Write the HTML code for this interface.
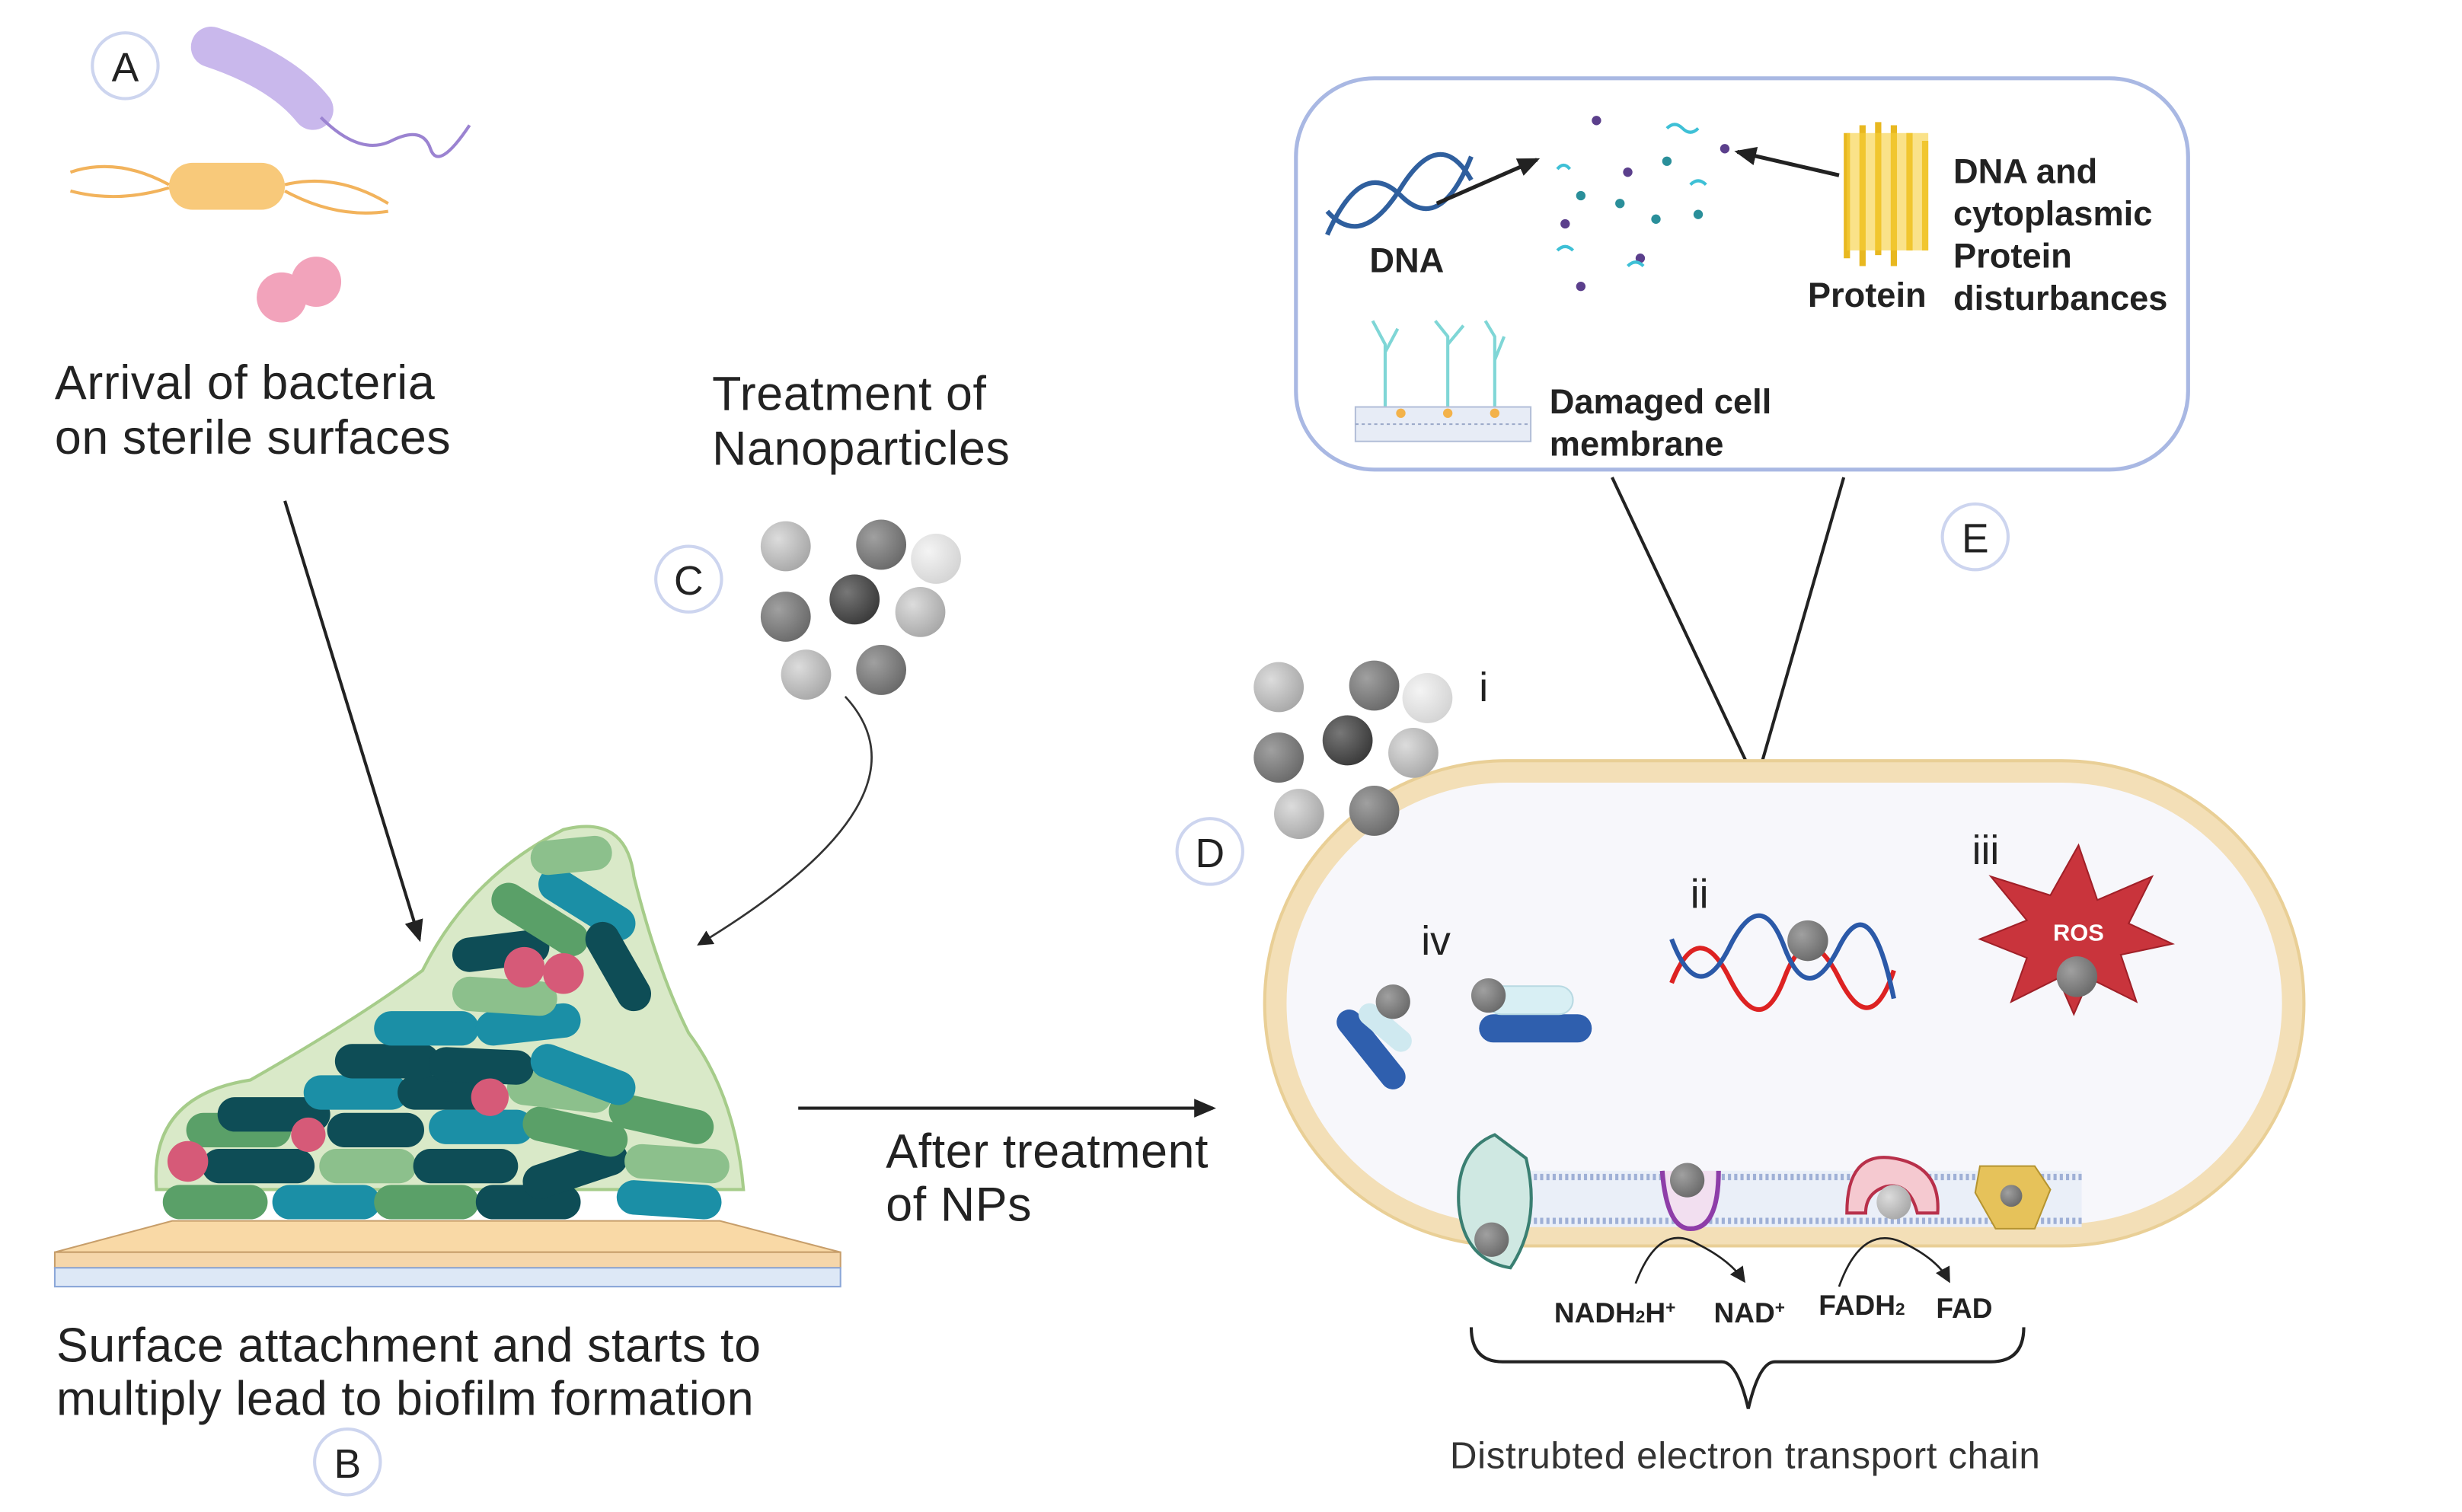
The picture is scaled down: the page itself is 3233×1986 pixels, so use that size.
<!DOCTYPE html>
<html><head><meta charset="utf-8"><style>
html,body{margin:0;padding:0;background:#fff;}
svg{display:block;}
text{font-family:"Liberation Sans",sans-serif;}
</style></head><body>
<svg width="3233" height="1986" viewBox="0 0 1573 966" preserveAspectRatio="none" xmlns="http://www.w3.org/2000/svg">
<defs>
<radialGradient id="g1" cx="35%" cy="35%" r="70%"><stop offset="0" stop-color="#dcdcdc"/><stop offset="1" stop-color="#a8a8a8"/></radialGradient>
<radialGradient id="g2" cx="35%" cy="35%" r="70%"><stop offset="0" stop-color="#a0a0a0"/><stop offset="1" stop-color="#6a6a6a"/></radialGradient>
<radialGradient id="g3" cx="35%" cy="35%" r="70%"><stop offset="0" stop-color="#777"/><stop offset="1" stop-color="#3a3a3a"/></radialGradient>
<radialGradient id="g4" cx="35%" cy="35%" r="70%"><stop offset="0" stop-color="#f4f4f4"/><stop offset="1" stop-color="#d4d4d4"/></radialGradient>
<marker id="ar" markerWidth="10" markerHeight="10" refX="8" refY="5" orient="auto" markerUnits="userSpaceOnUse"><path d="M0,0 L10,5 L0,10 z" fill="#222"/></marker>
<marker id="ar2" markerWidth="14" markerHeight="12" refX="12" refY="6" orient="auto" markerUnits="userSpaceOnUse"><path d="M0,0 L14,6 L0,12 z" fill="#222"/></marker>
</defs>

<g fill="#fff" stroke="#cdd5ef" stroke-width="2">
<circle cx="80" cy="42" r="21"/><circle cx="440" cy="370" r="21"/><circle cx="222" cy="934" r="21"/>
<circle cx="773" cy="544" r="21"/><circle cx="1262" cy="343" r="21"/>
</g>
<g font-size="26" fill="#222" text-anchor="middle">
<text x="80" y="52">A</text><text x="440" y="380">C</text><text x="222" y="944">B</text>
<text x="773" y="554">D</text><text x="1262" y="353">E</text>
</g>

<path d="M135,30 Q180,45 200,70" stroke="#c9b8ec" stroke-width="26" stroke-linecap="round" fill="none"/>
<path d="M205,75 Q230,100 250,90 T275,95 T300,80" stroke="#9b83d1" stroke-width="2" fill="none"/>
<rect x="108" y="104" width="74" height="30" rx="15" fill="#f8c97a"/>
<path d="M45,110 Q75,100 108,118 M45,122 Q75,130 108,120 M182,118 Q215,110 248,130 M182,122 Q215,140 248,135" stroke="#f2b35c" stroke-width="2" fill="none"/>
<circle cx="180" cy="190" r="16" fill="#f2a3bb"/><circle cx="202" cy="180" r="16" fill="#f2a3bb"/>

<g font-size="30.5" fill="#222" letter-spacing="0.3">
<text x="35" y="255">Arrival of bacteria</text><text x="35" y="290">on sterile surfaces</text>
<text x="455" y="262">Treatment of</text><text x="455" y="297">Nanoparticles</text>
<text x="36" y="870">Surface attachment and starts to</text><text x="36" y="904">multiply lead to biofilm formation</text>
<text x="566" y="746">After treatment</text><text x="566" y="780">of NPs</text>
</g>

<line x1="182" y1="320" x2="268" y2="600" stroke="#222" stroke-width="2" marker-end="url(#ar2)"/>
<path d="M540,445 Q600,510 447,603" stroke="#333" stroke-width="1.3" fill="none" marker-end="url(#ar)"/>
<line x1="510" y1="708" x2="775" y2="708" stroke="#222" stroke-width="2" marker-end="url(#ar2)"/>

<circle cx="502" cy="349" r="16" fill="url(#g1)"/><circle cx="563" cy="348" r="16" fill="url(#g2)"/><circle cx="598" cy="357" r="16" fill="url(#g4)"/>
<circle cx="502" cy="394" r="16" fill="url(#g2)"/><circle cx="546" cy="383" r="16" fill="url(#g3)"/><circle cx="588" cy="391" r="16" fill="url(#g1)"/>
<circle cx="515" cy="431" r="16" fill="url(#g1)"/><circle cx="563" cy="428" r="16" fill="url(#g2)"/>

<path d="M100,760 Q95,700 160,690 Q230,650 270,620 Q300,560 360,530 Q400,520 405,560 Q420,620 440,660 Q470,700 475,760 Z" fill="#d9e9c8" stroke="#a6cc8a" stroke-width="2"/>
<polygon points="35,800 110,780 460,780 537,800" fill="#f9d9a6" stroke="#c79e6a"/>
<rect x="35" y="800" width="502" height="10" fill="#f5d6aa" stroke="#c79e6a"/>
<rect x="35" y="810" width="502" height="12" fill="#dde8f6" stroke="#8aa6d8"/>
<g stroke-linecap="round" stroke-width="22" fill="none">
<line x1="115" y1="768" x2="160" y2="768" stroke="#5aa068"/><line x1="185" y1="768" x2="232" y2="768" stroke="#1b8fa6"/>
<line x1="250" y1="768" x2="295" y2="768" stroke="#5aa068"/><line x1="315" y1="768" x2="360" y2="768" stroke="#0e4d56"/>
<line x1="405" y1="765" x2="450" y2="768" stroke="#1b8fa6"/><line x1="140" y1="745" x2="190" y2="745" stroke="#0e4d56"/>
<line x1="215" y1="745" x2="255" y2="745" stroke="#8cc08c"/><line x1="275" y1="745" x2="320" y2="745" stroke="#0e4d56"/>
<line x1="345" y1="755" x2="390" y2="740" stroke="#0e4d56"/><line x1="410" y1="742" x2="455" y2="745" stroke="#8cc08c"/>
<line x1="130" y1="722" x2="175" y2="722" stroke="#5aa068"/><line x1="150" y1="712" x2="200" y2="712" stroke="#0e4d56"/>
<line x1="220" y1="722" x2="260" y2="722" stroke="#0e4d56"/><line x1="285" y1="720" x2="330" y2="720" stroke="#1b8fa6"/>
<line x1="345" y1="718" x2="390" y2="728" stroke="#5aa068"/><line x1="400" y1="710" x2="445" y2="720" stroke="#5aa068"/>
<line x1="205" y1="698" x2="250" y2="698" stroke="#1b8fa6"/><line x1="265" y1="698" x2="310" y2="698" stroke="#0e4d56"/>
<line x1="335" y1="695" x2="380" y2="700" stroke="#8cc08c"/><line x1="225" y1="678" x2="270" y2="678" stroke="#0e4d56"/>
<line x1="285" y1="680" x2="330" y2="682" stroke="#0e4d56"/><line x1="350" y1="678" x2="395" y2="695" stroke="#1b8fa6"/>
<line x1="250" y1="657" x2="295" y2="657" stroke="#1b8fa6"/><line x1="315" y1="657" x2="360" y2="652" stroke="#1b8fa6"/>
<line x1="300" y1="635" x2="345" y2="638" stroke="#8cc08c"/><line x1="300" y1="610" x2="340" y2="605" stroke="#0e4d56"/>
<line x1="325" y1="575" x2="365" y2="600" stroke="#5aa068"/><line x1="355" y1="565" x2="395" y2="590" stroke="#1b8fa6"/>
<line x1="385" y1="600" x2="405" y2="635" stroke="#0e4d56"/><line x1="350" y1="548" x2="380" y2="545" stroke="#8cc08c"/>
</g>
<g fill="#d65a78"><circle cx="120" cy="742" r="13"/><circle cx="197" cy="725" r="11"/><circle cx="313" cy="701" r="12"/><circle cx="335" cy="618" r="13"/><circle cx="360" cy="622" r="13"/></g>

<rect x="828" y="50" width="570" height="250" rx="50" fill="#fff" stroke="#a9b8e3" stroke-width="2.5"/>
<line x1="1030" y1="305" x2="1122" y2="500" stroke="#222" stroke-width="2"/>
<line x1="1178" y1="305" x2="1122" y2="500" stroke="#222" stroke-width="2"/>
<path d="M848,150 Q870,100 895,125 T940,100 M848,135 Q870,160 895,120 T940,115" stroke="#2f5f9e" stroke-width="3" fill="none"/>
<line x1="918" y1="130" x2="982" y2="102" stroke="#222" stroke-width="2.5" marker-end="url(#ar2)"/>
<line x1="1175" y1="112" x2="1110" y2="97" stroke="#222" stroke-width="2.5" marker-end="url(#ar2)"/>
<g fill="#5b3f8c"><circle cx="1020" cy="77" r="3"/><circle cx="1040" cy="110" r="3"/><circle cx="1000" cy="143" r="3"/><circle cx="1048" cy="165" r="3"/><circle cx="1010" cy="183" r="3"/><circle cx="1102" cy="95" r="3"/></g>
<g fill="#2a8f9a"><circle cx="1065" cy="103" r="3"/><circle cx="1010" cy="125" r="3"/><circle cx="1058" cy="140" r="3"/><circle cx="1085" cy="137" r="3"/><circle cx="1035" cy="130" r="3"/></g>
<g stroke="#3ec0d6" stroke-width="2" fill="none"><path d="M1065,82 q5,-5 10,0 t10,0"/><path d="M995,108 q4,-5 8,0"/><path d="M1080,118 q5,-5 10,0"/><path d="M995,160 q5,-5 10,0"/><path d="M1040,170 q5,-5 10,0"/></g>
<g stroke="#e8b820" stroke-width="4" fill="none"><path d="M1180,85 v80 M1190,80 v90 M1200,78 v85 M1210,80 v90 M1220,85 v75 M1230,90 v70"/></g>
<rect x="1180" y="85" width="52" height="75" fill="#f6cf3a" opacity="0.6"/>
<g stroke="#7fd6d6" stroke-width="2" fill="none"><path d="M885,260 v-40 l-8,-15 M885,225 l8,-15"/><path d="M925,260 v-45 l-8,-10 M925,220 l10,-12"/><path d="M955,260 v-45 l-6,-10 M955,230 l6,-15"/></g>
<rect x="866" y="260" width="112" height="22" fill="#e7ecf6" stroke="#b3bfd8"/>
<line x1="866" y1="271" x2="978" y2="271" stroke="#9aa8c8" stroke-dasharray="2,2"/>
<g fill="#f3b24a"><circle cx="895" cy="264" r="3"/><circle cx="925" cy="264" r="3"/><circle cx="955" cy="264" r="3"/></g>
<g font-size="22" font-weight="bold" fill="#222">
<text x="875" y="174">DNA</text><text x="1155" y="196">Protein</text>
<text x="1248" y="117">DNA and</text><text x="1248" y="144">cytoplasmic</text><text x="1248" y="171">Protein</text><text x="1248" y="198">disturbances</text>
<text x="990" y="264">Damaged cell</text><text x="990" y="291">membrane</text>
</g>

<rect x="815" y="493" width="650" height="296" rx="148" fill="#f7f7fb" stroke="#f3dfb7" stroke-width="14"/>
<rect x="808" y="486" width="664" height="310" rx="155" fill="none" stroke="#e9cf96" stroke-width="2"/>
<circle cx="817" cy="439" r="16" fill="url(#g1)"/><circle cx="878" cy="438" r="16" fill="url(#g2)"/><circle cx="912" cy="446" r="16" fill="url(#g4)"/>
<circle cx="817" cy="484" r="16" fill="url(#g2)"/><circle cx="861" cy="473" r="16" fill="url(#g3)"/><circle cx="903" cy="481" r="16" fill="url(#g1)"/>
<circle cx="830" cy="520" r="16" fill="url(#g1)"/><circle cx="878" cy="518" r="16" fill="url(#g2)"/>
<g font-size="26" fill="#222"><text x="945" y="448">i</text><text x="1080" y="580">ii</text><text x="1260" y="552">iii</text><text x="908" y="610">iv</text></g>

<line x1="862" y1="653" x2="890" y2="688" stroke="#2f5fae" stroke-width="16" stroke-linecap="round"/>
<line x1="875" y1="648" x2="895" y2="665" stroke="#cfe9f0" stroke-width="14" stroke-linecap="round"/>
<circle cx="890" cy="640" r="11" fill="url(#g2)"/>
<rect x="945" y="648" width="72" height="18" rx="9" fill="#2f5fae"/>
<rect x="950" y="630" width="55" height="18" rx="9" fill="#d8eff4" stroke="#b8d9e2"/>
<circle cx="951" cy="636" r="11" fill="url(#g2)"/>
<path d="M1068,628 Q1085,585 1105,625 T1140,625 T1175,625 T1210,620" stroke="#d22" stroke-width="3" fill="none"/>
<path d="M1068,600 Q1085,645 1105,605 T1140,605 T1175,605 T1210,638" stroke="#2b59a8" stroke-width="3" fill="none"/>
<circle cx="1155" cy="601" r="13" fill="url(#g2)"/>
<polygon points="1328,540 1340,575 1375,560 1360,590 1388,603 1355,610 1365,640 1335,625 1325,648 1315,625 1285,640 1295,612 1265,600 1295,588 1272,560 1310,572" fill="#c9343c" stroke="#a02028"/>
<text x="1328" y="601" font-size="15" font-weight="bold" fill="#fff" text-anchor="middle">ROS</text>
<circle cx="1327" cy="624" r="13" fill="url(#g2)"/>

<rect x="960" y="748" width="370" height="36" fill="#eaeff8"/>
<line x1="960" y1="752" x2="1330" y2="752" stroke="#9fb0d6" stroke-width="4" stroke-dasharray="2,2"/>
<line x1="960" y1="780" x2="1330" y2="780" stroke="#9fb0d6" stroke-width="4" stroke-dasharray="2,2"/>
<path d="M955,725 Q930,735 932,770 Q935,805 965,810 Q985,780 975,740 Z" fill="#cfe8e2" stroke="#3a7f72" stroke-width="2"/>
<circle cx="953" cy="792" r="11" fill="url(#g2)"/>
<path d="M1062,748 Q1065,785 1080,785 Q1098,785 1098,748" fill="#f2dff0" stroke="#8e3da8" stroke-width="3"/>
<circle cx="1078" cy="754" r="11" fill="url(#g2)"/>
<path d="M1180,775 Q1180,735 1210,740 Q1240,745 1238,775 L1225,775 Q1220,755 1205,758 Q1192,762 1192,775 Z" fill="#f5c9d0" stroke="#b8304a" stroke-width="2"/>
<circle cx="1210" cy="768" r="11" fill="url(#g1)"/>
<path d="M1265,745 L1300,745 L1310,760 L1300,785 L1275,785 L1262,762 Z" fill="#e6c25a" stroke="#b59430"/>
<circle cx="1285" cy="764" r="7" fill="url(#g2)"/>
<path d="M1045,820 Q1060,780 1085,795 Q1105,805 1114,818" stroke="#222" fill="none" stroke-width="1.3" marker-end="url(#ar)"/>
<path d="M1175,822 Q1190,780 1218,795 Q1238,805 1245,818" stroke="#222" fill="none" stroke-width="1.3" marker-end="url(#ar)"/>
<g font-size="18" font-weight="bold" fill="#222">
<text x="993" y="845">NADH<tspan font-size="11">2</tspan>H<tspan font-size="11" dy="-6">+</tspan></text>
<text x="1095" y="845">NAD<tspan font-size="11" dy="-6">+</tspan></text>
<text x="1162" y="840">FADH<tspan font-size="11">2</tspan></text>
<text x="1237" y="842">FAD</text>
</g>
<path d="M940,848 Q940,870 960,870 L1100,870 Q1110,870 1117,900 Q1124,870 1134,870 L1272,870 Q1293,870 1293,848" stroke="#222" stroke-width="2" fill="none"/>
<text x="1115" y="938" font-size="24" fill="#333" text-anchor="middle" letter-spacing="0.3">Distrubted electron transport chain</text>
</svg>
</body></html>
